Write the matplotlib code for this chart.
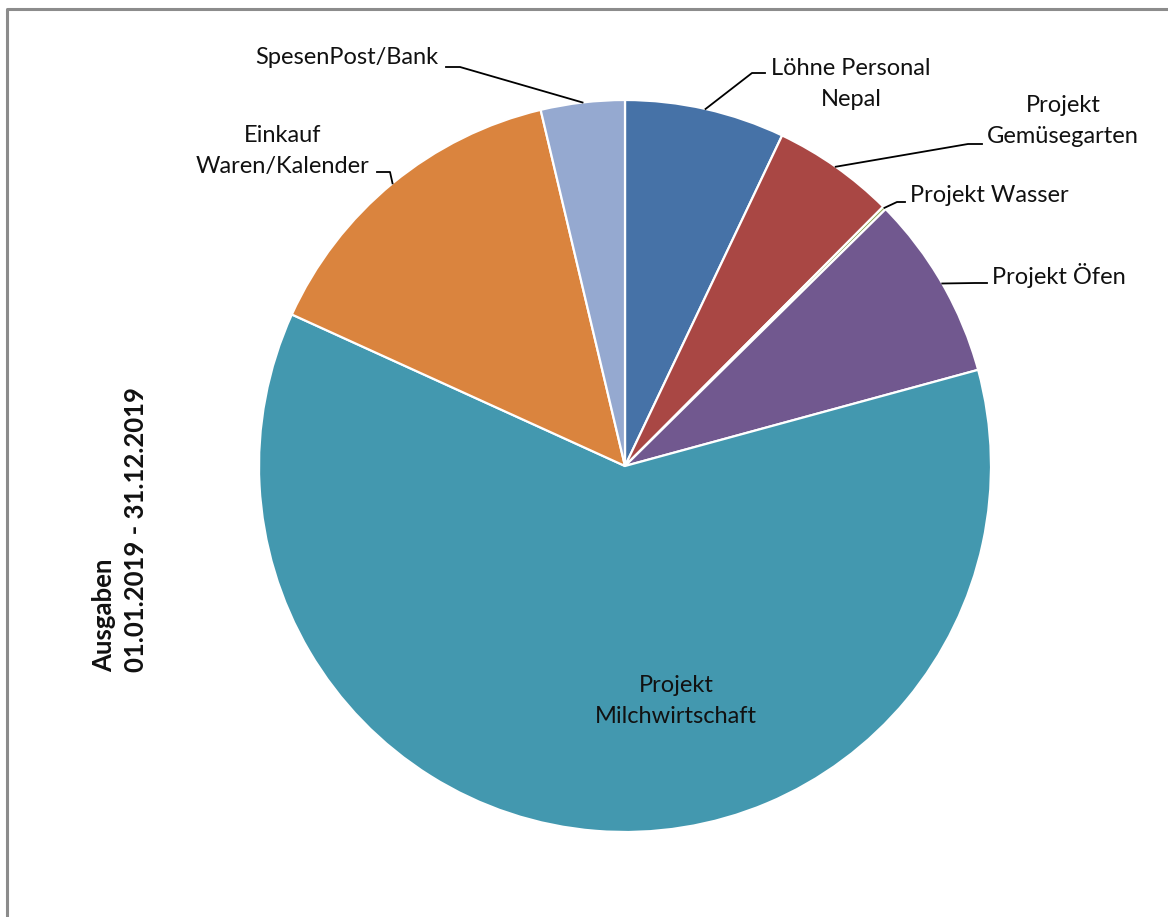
import numpy as np
import matplotlib
matplotlib.use("Agg")
import matplotlib.pyplot as plt

plt.rcParams['font.family'] = ['Lato', 'DejaVu Sans']

categories = ["Löhne Personal\nNepal", "Projekt\nGemüsegarten", "Projekt Wasser",
              "Projekt Öfen", "Projekt\nMilchwirtschaft", "Einkauf\nWaren/Kalender",
              "SpesenPost/Bank"]
values = [7.06, 5.4, 0.15, 8.15, 61.0, 14.5, 3.7]
colors = ["#4672A7", "#A94744", "#89A54E", "#71588F", "#4398AF", "#DA843E", "#95A9D0"]
title = "Ausgaben\n01.01.2019 - 31.12.2019"

W, H = 1168, 917
fig = plt.figure(figsize=(W / 100, H / 100), dpi=100)
ax = fig.add_axes([0, 0, 1, 1])

cx, cy, R = 625, H - 466, 366
wedges, _ = ax.pie(values, colors=colors, startangle=90, counterclock=False,
                   center=(cx, cy), radius=R, frame=True,
                   wedgeprops=dict(edgecolor='white', linewidth=1.6))
ax.set_xlim(0, W)
ax.set_ylim(0, H)
ax.set_aspect('equal')
ax.axis('off')

# frame (chart area border)
ax.plot([7, 7, W + 10], [-10, H - 9, H - 9], color='#8c8c8c', lw=2.2, clip_on=False)

# label layout: elbow points, text position, alignment
layout = {
    0: dict(pts=[(752, 73), (765, 73)], txt=(851, 84), ha='center'),
    1: dict(pts=[(968, 144), (982, 144)], txt=(1063, 121), ha='center'),
    2: dict(pts=[(897, 202), (905, 202)], txt=(910, 196), ha='left'),
    3: dict(pts=[(975, 283), (987, 283)], txt=(992, 276), ha='left'),
    4: dict(pts=[], txt=(676, 701), ha='center'),
    5: dict(pts=[(390, 172), (377, 172)], txt=(283, 151), ha='center'),
    6: dict(pts=[(460, 67), (446, 67)], txt=(347, 58), ha='center'),
}

fs = 17
for i, w in enumerate(wedges):
    mid = np.deg2rad((w.theta1 + w.theta2) / 2)
    ex, ey = cx + R * np.cos(mid), cy + R * np.sin(mid)
    lay = layout[i]
    if lay['pts']:
        xs = [ex] + [p[0] for p in lay['pts']]
        ys = [ey] + [H - p[1] for p in lay['pts']]
        ax.plot(xs, ys, color='black', lw=1.3)
    tx, ty = lay['txt']
    ax.text(tx, H - ty, categories[i], ha=lay['ha'], va='center', fontsize=fs,
            linespacing=1.55, multialignment='center', color='#111111')

ax.text(120, H - 529, title, rotation=90, ha='center', va='center',
        fontsize=18.5, fontweight='bold', multialignment='left', linespacing=1.35,
        color='#111111')

fig.savefig("out.png", dpi=100)
